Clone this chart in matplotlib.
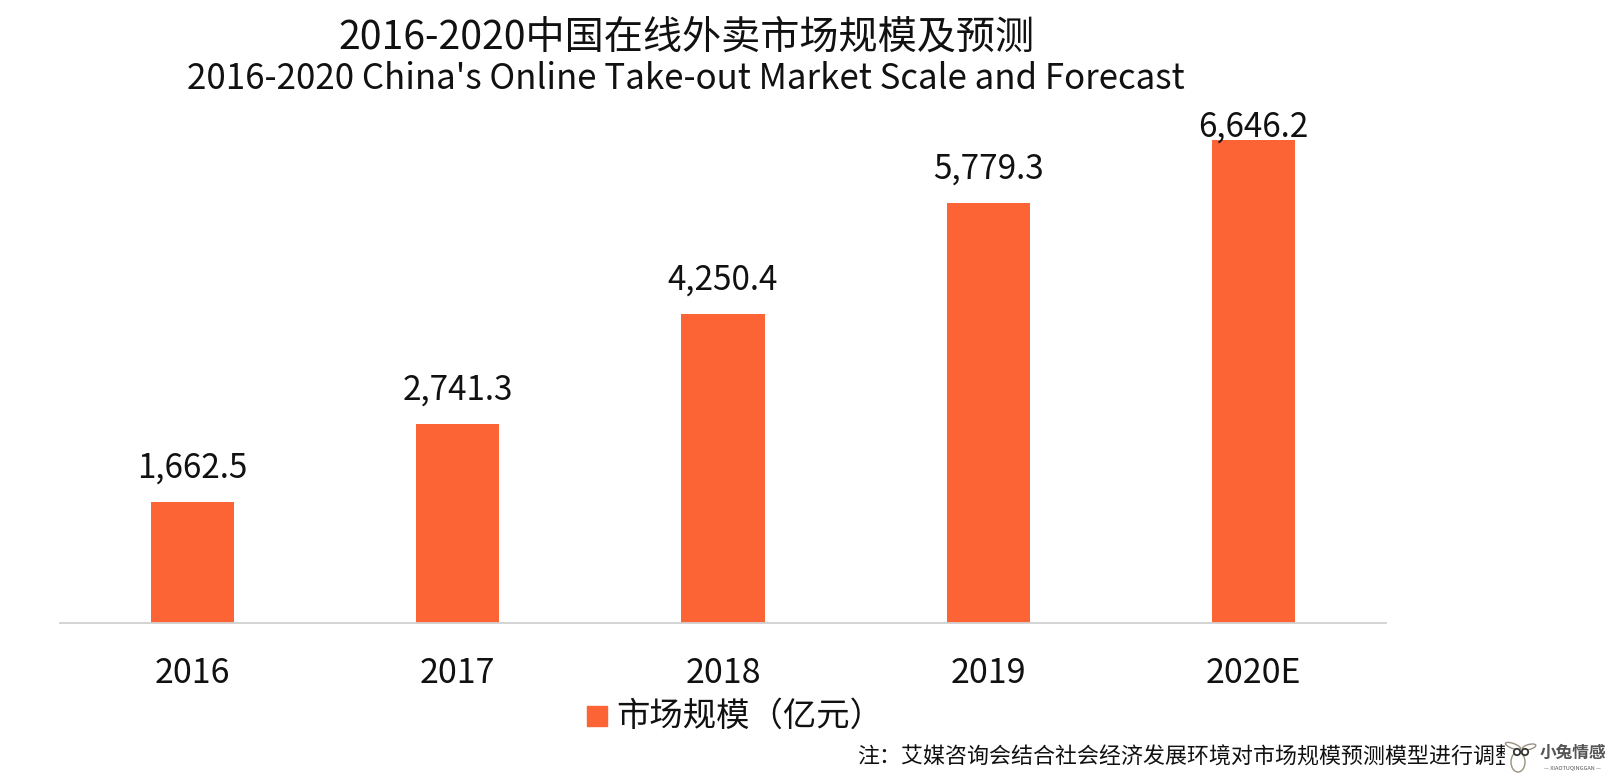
import matplotlib
matplotlib.use('Agg')
import matplotlib.pyplot as plt
from matplotlib.patches import Rectangle, Ellipse, Circle

plt.rcParams['font.family'] = ['Noto Sans CJK SC', 'DejaVu Sans']

# data
years = ['2016', '2017', '2018', '2019', '2020E']
market_scale = [1662.5, 2741.3, 4250.4, 5779.3, 6646.2]

W, H = 1616, 782
fig = plt.figure(figsize=(W / 100, H / 100), dpi=100)

# axes box: baseline at y=623 px, 6646.2 top at y=140 px
scale = (623 - 140) / 6646.2
ax_top = 100
ymax = (623 - ax_top) / scale
ax = fig.add_axes([60 / W, 1 - 623 / H, (1386 - 60) / W, (623 - ax_top) / H])

x = list(range(len(years)))
bars = ax.bar(x, market_scale, width=0.313, color='#FC6435')
ax.set_xlim(-0.5, 4.5)
ax.set_ylim(0, ymax)

for xi, v in zip(x, market_scale):
    # the last label is pushed down onto the bar, no room under the subtitle
    gap = -3.6 if xi == x[-1] else 12
    ax.annotate(f'{v:,.1f}', (xi, v), xytext=(0, gap), textcoords='offset points',
                ha='center', va='bottom', fontsize=24, color='#111111')

for s in ['top', 'left', 'right']:
    ax.spines[s].set_visible(False)
ax.spines['bottom'].set_color('#D0D0D0')
ax.spines['bottom'].set_linewidth(1.3)
ax.set_yticks([])
ax.set_xticks(x)
ax.set_xticklabels(years, fontsize=24.5, color='#111111')
ax.tick_params(axis='x', length=0, pad=24)

# overlay in pixel coordinates for titles, legend, note and logo
ov = fig.add_axes([0, 0, 1, 1], facecolor='none')
ov.set_xlim(0, W)
ov.set_ylim(H, 0)
ov.axis('off')

ov.text(686, 38, '2016-2020中国在线外卖市场规模及预测', fontsize=28.2,
        ha='center', va='center', color='#111111')
ov.text(686, 79, "2016-2020 China's Online Take-out Market Scale and Forecast",
        fontsize=25.1, ha='center', va='center', color='#111111')

# legend
ov.add_patch(Rectangle((587, 706), 20, 20, color='#FC6435'))
ov.text(616, 716, '市场规模（亿元）', fontsize=24, ha='left', va='center', color='#111111')

ov.text(857, 758, '注：艾媒咨询会结合社会经济发展环境对市场规模预测模型进行调整', fontsize=15.8,
        ha='left', va='center', color='#111111')

# logo, rabbit sits on top of the end of the note
ov.add_patch(Rectangle((1505, 740), 32, 36, color='white', zorder=3))
ov.add_patch(Ellipse((1518, 762), 14, 20, fc='white', ec='#999080', lw=1, zorder=4))
ov.add_patch(Ellipse((1513, 746), 16, 5, angle=20, fc='white', ec='#999080', lw=1, zorder=4))
ov.add_patch(Ellipse((1529, 747), 14, 5, angle=-15, fc='white', ec='#999080', lw=1, zorder=4))
ov.add_patch(Circle((1517, 752), 3.2, fc='white', ec='#333333', lw=1.3, zorder=5))
ov.add_patch(Circle((1525, 752), 3.2, fc='white', ec='#333333', lw=1.3, zorder=5))
ov.text(1572.5, 753, '小兔情感', fontsize=12, fontweight='bold', ha='center', va='center',
        color='#555555', zorder=5)
ov.text(1572.5, 768, '— XIAOTUQINGGAN —', fontsize=4, ha='center', va='center', color='#555555', zorder=5)

fig.savefig('out.png', dpi=100)
